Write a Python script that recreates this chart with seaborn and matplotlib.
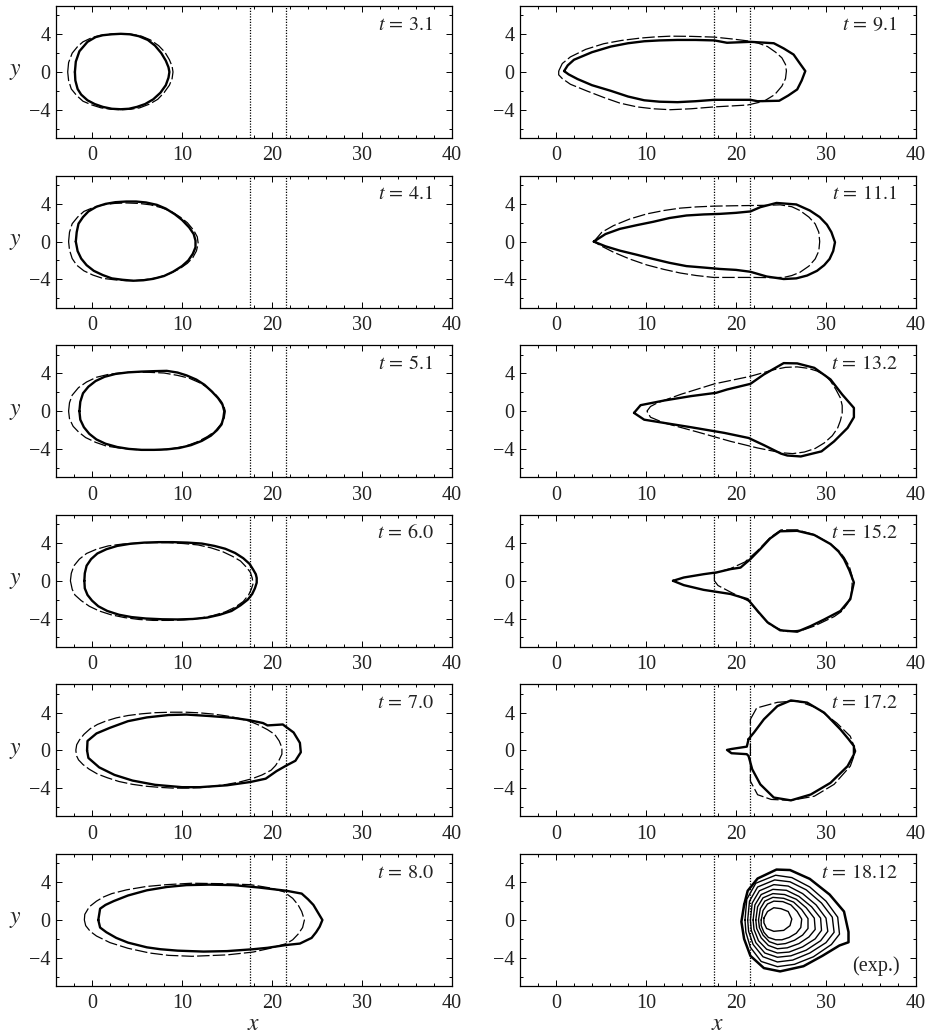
import matplotlib
matplotlib.use("Agg")
import matplotlib.pyplot as plt
import seaborn as sns
import pandas as pd
from matplotlib.ticker import MultipleLocator, FixedLocator

# ---------------- data ----------------
times = ["3.1", "4.1", "5.1", "6.0", "7.0", "8.0",
         "9.1", "11.1", "13.2", "15.2", "17.2"]
exp_time = "18.12"
gap_edges = [17.5, 21.5]
x_ticks = [0, 10, 20, 30, 40]
y_ticks = [-4, 0, 4]

solid_t31 = [(-1.9, 0), (-1.8, 1.1), (-1.4, 2.2), (-0.5, 3.2), (0.4, 3.7), (1.2, 3.9),
             (2.2, 4.0), (3.2, 4.05), (4.2, 4.0), (5.2, 3.8), (6.2, 3.4), (7.0, 2.8),
             (7.7, 2.0), (8.2, 1.2), (8.5, 0.5), (8.6, 0), (8.5, -0.6), (8.2, -1.4),
             (7.6, -2.2), (6.8, -2.9), (5.9, -3.4), (5.0, -3.7), (4.1, -3.9), (3.2, -3.95),
             (2.2, -3.9), (1.2, -3.7), (0.3, -3.4), (-0.5, -3.0), (-1.2, -2.4), (-1.6, -1.8),
             (-1.85, -0.9), (-1.9, 0)]
dash_t31 = [(-2.7, 0), (-2.6, 1.0), (-2.2, 2.0), (-1.6, 2.7), (-1.0, 3.2), (0.0, 3.65),
            (1.0, 3.9), (2.1, 4.02), (3.2, 4.05), (4.4, 4.0), (5.5, 3.8), (6.5, 3.4),
            (7.4, 2.8), (8.1, 2.1), (8.6, 1.3), (8.9, 0.6), (9.0, 0), (8.9, -0.7),
            (8.6, -1.4), (8.0, -2.2), (7.3, -2.9), (6.4, -3.4), (5.3, -3.8), (4.3, -3.95),
            (3.2, -4.0), (2.1, -3.95), (1.0, -3.8), (0.0, -3.5), (-1.0, -3.1), (-1.7, -2.5),
            (-2.3, -1.8), (-2.6, -0.9), (-2.7, 0)]

solid_t41 = [(-1.8, 0), (-1.7, 1.0), (-1.5, 1.9), (-1.0, 2.6), (-0.4, 3.2), (0.5, 3.7),
             (1.5, 4.0), (2.6, 4.18), (3.8, 4.25), (4.9, 4.25), (6.0, 4.15), (7.2, 3.9),
             (8.2, 3.5), (9.2, 2.9), (10.0, 2.3), (10.8, 1.5), (11.3, 0.8), (11.5, 0.1),
             (11.5, -0.6), (11.2, -1.3), (10.7, -2.0), (10.0, -2.6), (9.0, -3.2), (8.0, -3.65),
             (6.8, -3.95), (5.7, -4.1), (4.6, -4.15), (3.4, -4.05), (2.2, -3.9), (1.2, -3.55),
             (0.2, -3.1), (-0.6, -2.5), (-1.2, -1.8), (-1.6, -1.0), (-1.8, 0)]
dash_t41 = [(-2.6, 0), (-2.5, 1.0), (-2.2, 1.9), (-1.6, 2.6), (-0.9, 3.2), (0.1, 3.6),
            (1.2, 3.9), (2.5, 4.05), (3.8, 4.1), (5.2, 4.05), (6.5, 3.9), (7.7, 3.6),
            (8.8, 3.2), (9.8, 2.6), (10.6, 2.0), (11.3, 1.2), (11.7, 0.5), (11.8, -0.2),
            (11.6, -1.0), (11.2, -1.7), (10.6, -2.3), (9.7, -2.9), (8.6, -3.4), (7.4, -3.8),
            (6.2, -4.0), (5.0, -4.12), (3.8, -4.15), (2.5, -4.05), (1.2, -3.9), (0.1, -3.55),
            (-0.9, -3.1), (-1.7, -2.5), (-2.2, -1.8), (-2.5, -0.9), (-2.6, 0)]

solid_t51 = [(-1.4, 0), (-1.3, 1.0), (-1.0, 1.9), (-0.4, 2.6), (0.4, 3.2), (1.4, 3.65),
             (2.6, 3.95), (4.0, 4.12), (5.5, 4.2), (7.0, 4.25), (8.3, 4.28), (9.5, 4.1),
             (10.5, 3.8), (11.6, 3.35), (12.5, 2.8), (13.3, 2.1), (14.0, 1.4), (14.5, 0.7),
             (14.7, 0), (14.6, -0.7), (14.4, -1.4), (13.9, -2.0), (13.2, -2.6), (12.2, -3.15),
             (11.0, -3.6), (9.7, -3.9), (8.3, -4.05), (6.9, -4.1), (5.5, -4.1), (4.1, -4.0),
             (2.8, -3.8), (1.5, -3.45), (0.5, -3.0), (-0.3, -2.4), (-0.9, -1.7), (-1.3, -0.9),
             (-1.4, 0)]
dash_t51 = [(-2.6, 0), (-2.5, 0.9), (-2.2, 1.7), (-1.5, 2.5), (-0.6, 3.1), (0.5, 3.6),
            (1.8, 3.9), (3.3, 4.08), (4.8, 4.15), (6.4, 4.12), (8.0, 4.05), (9.5, 3.8),
            (10.8, 3.5), (12.0, 3.0), (13.0, 2.4), (13.8, 1.7), (14.4, 1.0), (14.7, 0.4),
            (14.8, 0), (14.7, -0.7), (14.3, -1.4), (13.7, -2.1), (12.8, -2.7), (11.7, -3.25),
            (10.4, -3.7), (9.0, -3.95), (7.5, -4.1), (6.0, -4.1), (4.5, -4.05), (3.0, -3.9),
            (1.6, -3.7), (0.4, -3.3), (-0.7, -2.8), (-1.5, -2.2), (-2.1, -1.6), (-2.5, -0.8),
            (-2.6, 0)]

solid_t60 = [(-0.85, 0), (-0.8, 0.8), (-0.6, 1.6), (-0.1, 2.3), (0.6, 2.9), (1.6, 3.35),
             (2.8, 3.7), (4.2, 3.92), (5.8, 4.05), (7.4, 4.1), (9.0, 4.1), (10.6, 4.05),
             (12.2, 3.95), (13.6, 3.7), (14.8, 3.4), (15.9, 2.95), (16.8, 2.4), (17.5, 1.8),
             (17.9, 1.2), (18.2, 0.7), (18.3, 0.3), (18.3, -0.2), (18.1, -0.8), (17.8, -1.4),
             (17.3, -2.0), (16.5, -2.6), (15.5, -3.2), (14.2, -3.6), (12.8, -3.9), (11.2, -4.05),
             (9.5, -4.1), (7.8, -4.08), (6.0, -4.0), (4.4, -3.85), (3.0, -3.6), (1.7, -3.2),
             (0.7, -2.7), (0.0, -2.1), (-0.5, -1.5), (-0.8, -0.8), (-0.85, 0)]
dash_t60 = [(-2.4, 0), (-2.3, 0.8), (-2.0, 1.6), (-1.4, 2.3), (-0.6, 2.9), (0.5, 3.35),
            (1.8, 3.7), (3.4, 3.9), (5.0, 4.0), (6.8, 4.05), (8.5, 4.05), (10.2, 3.95),
            (11.8, 3.8), (13.2, 3.5), (14.5, 3.1), (15.6, 2.6), (16.5, 2.1), (17.1, 1.5),
            (17.6, 0.9), (17.8, 0.3), (17.9, -0.3), (17.7, -0.9), (17.4, -1.5), (16.8, -2.2),
            (15.9, -2.8), (14.8, -3.3), (13.4, -3.7), (11.8, -4.0), (10.2, -4.15), (8.5, -4.2),
            (6.8, -4.2), (5.2, -4.1), (3.6, -3.9), (2.1, -3.6), (0.8, -3.2), (-0.3, -2.7),
            (-1.2, -2.1), (-1.9, -1.5), (-2.2, -0.9), (-2.4, 0)]

solid_t70 = [(-0.55, 0), (-0.5, 1.0), (0.5, 1.8), (2.0, 2.4), (4.0, 3.1), (6.1, 3.5),
             (8.5, 3.75), (10.5, 3.8), (13.0, 3.65), (15.7, 3.45), (17.5, 3.2), (19.0, 2.9),
             (19.5, 2.65), (21.2, 2.75), (22.4, 1.9), (23.1, 0.8), (23.2, -0.2), (22.6, -1.1),
             (21.6, -1.6), (20.5, -2.2), (19.3, -3.0), (17.6, -3.35), (15.0, -3.7),
             (12.0, -3.9), (10.0, -3.9), (7.0, -3.65), (4.5, -3.2), (2.5, -2.6), (0.8, -1.8),
             (-0.4, -0.8), (-0.55, 0)]
dash_t70 = [(-1.8, 0), (-1.7, 0.6), (-1.4, 1.1), (-0.9, 1.7), (-0.2, 2.3), (0.6, 2.75),
            (1.5, 3.1), (2.7, 3.45), (4.0, 3.7), (5.5, 3.88), (7.0, 4.0), (8.8, 4.05),
            (10.5, 4.05), (12.0, 3.98), (13.5, 3.85), (15.0, 3.65), (16.3, 3.4), (17.5, 3.1),
            (18.5, 2.7), (19.5, 2.2), (20.3, 1.7), (20.8, 1.0), (21.1, 0.3), (21.1, -0.4),
            (20.8, -1.0), (20.4, -1.6), (19.9, -2.1), (18.9, -2.6), (17.8, -3.0),
            (16.4, -3.35), (15.0, -3.6), (13.5, -3.8), (12.0, -3.95), (10.5, -4.0), (9.0, -4.0),
            (7.5, -3.92), (6.0, -3.8), (4.5, -3.6), (3.0, -3.3), (1.7, -2.9), (0.6, -2.5),
            (-0.3, -2.0), (-1.0, -1.5), (-1.5, -1.0), (-1.7, -0.6), (-1.8, 0)]

solid_t80 = [(0.7, 0), (0.8, 0.6), (0.9, 1.2), (1.5, 1.6), (2.4, 2.0), (4.0, 2.6),
             (6.1, 3.15), (8.3, 3.5), (10.5, 3.7), (13.0, 3.75), (15.7, 3.7), (18.5, 3.45),
             (21.6, 3.1), (23.3, 2.8), (24.0, 2.2), (24.6, 1.6), (25.1, 0.8), (25.6, 0),
             (25.3, -0.7), (24.9, -1.3), (24.4, -1.9), (23.1, -2.5), (21.6, -2.65),
             (19.5, -2.95), (17.9, -3.1), (15.0, -3.3), (12.4, -3.35), (9.5, -3.25),
             (7.6, -3.1), (6.1, -2.9), (4.0, -2.4), (2.7, -1.9), (1.6, -1.3), (0.9, -0.8),
             (0.7, 0)]
dash_t80 = [(-0.85, 0), (-0.8, 0.6), (-0.3, 1.4), (0.5, 2.0), (1.3, 2.45), (2.2, 2.8),
            (3.85, 3.2), (6.0, 3.55), (8.3, 3.75), (11.1, 3.9), (14.5, 3.85), (17.6, 3.75),
            (19.8, 3.4), (21.3, 3.0), (22.3, 2.3), (22.9, 1.6), (23.3, 0.9), (23.5, 0.3),
            (23.6, 0), (23.5, -0.4), (23.4, -0.8), (22.9, -1.5), (22.3, -2.1), (21.6, -2.5),
            (19.8, -3.0), (17.9, -3.4), (15.0, -3.7), (11.1, -3.85), (8.5, -3.75),
            (6.4, -3.5), (4.0, -3.0), (2.0, -2.4), (0.5, -1.7), (-0.2, -1.2), (-0.7, -0.6),
            (-0.85, 0)]

solid_t91 = [(0.9, 0.1), (1.3, 0.7), (2.0, 1.3), (4.0, 2.1), (6.1, 2.7), (8.0, 3.05),
             (9.8, 3.26), (11.5, 3.35), (13.5, 3.4), (15.5, 3.4), (17.6, 3.35), (19.0, 3.1),
             (21.6, 3.2), (24.2, 3.05), (25.3, 2.5), (26.4, 1.85), (27.1, 0.9), (27.7, 0.1),
             (27.3, -0.9), (26.8, -1.85), (25.8, -2.5), (24.8, -3.05), (22.4, -3.1),
             (21.6, -2.95), (17.6, -2.95), (15.5, -3.1), (13.5, -3.2), (11.5, -3.15),
             (9.8, -3.0), (8.0, -2.6), (6.1, -2.0), (4.0, -1.4), (2.4, -0.75), (1.4, -0.25),
             (0.9, 0.1)]
dash_t91 = [(0.3, 0.1), (0.7, 0.9), (1.6, 1.6), (3.3, 2.4), (5.3, 3.0), (7.3, 3.35),
            (9.4, 3.6), (11.0, 3.72), (12.7, 3.8), (15.0, 3.78), (17.6, 3.7), (19.6, 3.5),
            (21.3, 3.3), (22.5, 3.05), (23.5, 2.7), (24.4, 2.1), (25.1, 1.5), (25.5, 0.8),
            (25.6, 0.1), (25.5, -0.7), (25.1, -1.5), (24.3, -2.4), (23.1, -3.1), (21.3, -3.5),
            (19.5, -3.6), (17.6, -3.7), (15.0, -3.9), (12.7, -4.0), (10.8, -3.9), (9.0, -3.7),
            (7.1, -3.3), (5.3, -2.7), (3.4, -2.0), (1.6, -1.3), (0.7, -0.7), (0.3, -0.3),
            (0.3, 0.1)]

solid_t111 = [(4.2, 0), (5.5, 0.8), (7.1, 1.35), (9.0, 1.75), (10.8, 2.1), (12.6, 2.5),
              (14.5, 2.77), (16.4, 2.88), (18.2, 2.94), (20.0, 3.05), (21.6, 3.2), (22.7, 3.65),
              (24.5, 4.1), (26.7, 3.94), (28.2, 3.3), (29.3, 2.6), (30.1, 1.8), (30.6, 1.0),
              (31.0, -0.07), (30.8, -1.0), (30.4, -1.84), (29.8, -2.5), (29.0, -3.1),
              (27.9, -3.6), (26.7, -3.9), (25.3, -3.97), (23.4, -3.7), (21.6, -3.2),
              (20.0, -3.0), (18.2, -2.9), (16.4, -2.75), (14.5, -2.6), (12.6, -2.25),
              (10.8, -1.84), (9.0, -1.4), (7.1, -0.96), (5.5, -0.5), (4.2, 0)]
dash_t111 = [(4.2, 0), (5.1, 1.0), (6.4, 1.7), (8.2, 2.4), (10.1, 2.94), (12.0, 3.3),
             (13.8, 3.55), (15.6, 3.68), (17.5, 3.76), (19.7, 3.8), (21.9, 3.83), (23.5, 3.85),
             (24.9, 3.9), (26.2, 3.7), (27.1, 3.3), (28.1, 2.6), (28.8, 1.88), (29.2, 1.0),
             (29.3, 0), (29.2, -1.0), (28.8, -1.84), (28.1, -2.6), (27.1, -3.26),
             (26.2, -3.6), (25.3, -3.8), (23.5, -3.82), (21.9, -3.8), (19.7, -3.8),
             (17.5, -3.8), (15.6, -3.6), (13.8, -3.33), (12.0, -2.95), (10.1, -2.48),
             (8.2, -1.85), (6.4, -1.13), (5.1, -0.5), (4.2, 0)]

solid_t132 = [(8.67, -0.18), (9.4, 0.64), (12.0, 1.13), (15.0, 1.6), (17.8, 1.95), (19.0, 2.3),
              (21.6, 2.9), (23.1, 3.9), (25.3, 5.1), (26.8, 5.07), (28.7, 4.6), (30.5, 3.37),
              (31.8, 1.77), (33.1, 0.35), (33.1, -0.64), (32.4, -1.77), (30.9, -3.2),
              (29.5, -4.26), (27.2, -4.8), (25.7, -4.7), (25.0, -4.5), (23.1, -3.6),
              (21.4, -2.84), (18.7, -2.3), (15.0, -1.7), (12.0, -1.24), (9.8, -0.9),
              (8.67, -0.18)]
dash_t132 = [(10.1, 0), (10.5, 0.5), (11.3, 0.9), (13.9, 1.8), (17.6, 2.9), (21.6, 3.7),
             (24.2, 4.4), (25.5, 4.65), (26.8, 4.7), (28.0, 4.55), (29.0, 4.26), (29.9, 3.8),
             (30.5, 3.2), (31.1, 2.3), (31.6, 1.4), (31.8, 0.6), (31.8, -0.2), (31.6, -1.0),
             (31.3, -1.77), (30.7, -2.6), (29.8, -3.37), (28.8, -3.95), (27.6, -4.33),
             (26.3, -4.5), (25.0, -4.4), (22.4, -3.9), (19.4, -3.2), (15.7, -2.2),
             (12.0, -1.24), (10.5, -0.64), (10.1, 0)]

solid_t152 = [(13.0, 0), (14.2, 0.35), (16.4, 0.7), (17.9, 0.9), (19.4, 1.24), (20.5, 1.4),
              (21.6, 2.3), (22.7, 3.37), (23.8, 4.5), (24.9, 5.25), (26.8, 5.3), (28.7, 4.86),
              (30.5, 3.9), (31.4, 3.1), (32.0, 2.3), (32.6, 1.1), (33.1, -0.18), (32.7, -1.95),
              (31.6, -3.2), (29.8, -4.1), (28.3, -4.8), (26.8, -5.4), (24.9, -5.25),
              (23.5, -4.4), (22.4, -3.2), (21.3, -1.95), (19.4, -1.4), (16.4, -0.96),
              (14.2, -0.46), (13.0, 0)]
dash_t152 = [(17.6, 0), (17.6, 0.8), (19.4, 1.3), (21.0, 2.0), (22.4, 3.2), (23.8, 4.6),
             (25.0, 5.4), (26.8, 5.4), (28.7, 4.9), (30.5, 3.9), (31.4, 3.2), (32.0, 2.5),
             (32.6, 1.5), (32.9, 0.5), (32.9, -0.5), (32.8, -1.5), (32.4, -2.4), (31.8, -3.2),
             (30.9, -3.8), (29.8, -4.3), (28.7, -4.8), (27.5, -5.2), (25.5, -5.4),
             (23.8, -4.7), (22.6, -3.5), (21.5, -2.2), (19.4, -1.2), (18.0, -0.5), (17.6, 0)]

solid_t172 = [(21.4, 1.2), (22.0, 1.9), (23.1, 3.3), (24.6, 4.7), (26.1, 5.3), (27.9, 5.07),
              (29.8, 4.0), (31.6, 2.23), (32.5, 1.2), (33.1, 0.46), (33.1, -0.43), (32.4, -1.67),
              (30.5, -3.44), (28.3, -4.68), (26.1, -5.3), (24.2, -5.0), (22.7, -3.6),
              (21.8, -2.0), (21.4, -0.6), (21.2, -0.4), (19.5, -0.3), (19.0, 0.05),
              (19.5, 0.15), (21.2, 0.4), (21.4, 1.2)]
dash_t172 = [(21.6, 3.3), (22.3, 4.5), (24.6, 5.1), (26.8, 5.25), (29.0, 4.5), (31.2, 2.9),
             (32.7, 1.5), (33.3, -0.07), (32.7, -1.67), (30.9, -3.6), (28.7, -4.86),
             (26.1, -5.3), (23.9, -5.2), (22.4, -4.7), (21.6, -3.26), (21.6, -1.67),
             (21.6, 0), (21.6, 1.9), (21.6, 3.3)]

exp_c0 = [(20.9, 1.6), (21.3, 3.1), (22.4, 4.4), (24.5, 5.35), (26.0, 5.3), (28.2, 4.36),
          (30.4, 2.7), (32.0, 0.9), (32.5, -1.27), (32.5, -2.36), (31.5, -2.7), (29.6, -3.8),
          (27.5, -4.9), (24.9, -5.45), (23.1, -5.1), (21.6, -3.8), (20.9, -2.0),
          (20.6, -0.18), (20.9, 1.6)]
exp_c1 = [(21.0, 0), (21.2, 2.2), (22.2, 3.9), (24.4, 4.75), (26.2, 4.5), (28.2, 3.5),
          (30.0, 2.0), (31.3, 0.3), (31.5, -1.5), (30.6, -2.6), (28.6, -3.9), (26.5, -4.7),
          (24.6, -4.95), (22.8, -4.4), (21.6, -2.9), (21.1, -1.3), (21.0, 0)]
exp_c2 = [(21.3, 0), (21.5, 2.0), (22.4, 3.5), (24.3, 4.25), (26.0, 4.05), (27.8, 3.2),
          (29.5, 1.8), (30.7, 0.3), (30.9, -1.3), (30.0, -2.4), (28.2, -3.5), (26.3, -4.25),
          (24.6, -4.45), (23.0, -3.9), (21.9, -2.6), (21.4, -1.2), (21.3, 0)]
exp_c3 = [(21.6, 0), (21.8, 1.8), (22.6, 3.1), (24.2, 3.75), (25.8, 3.6), (27.4, 2.8),
          (28.9, 1.6), (30.0, 0.2), (30.2, -1.2), (29.4, -2.2), (27.8, -3.2), (26.1, -3.8),
          (24.6, -3.95), (23.2, -3.5), (22.2, -2.4), (21.7, -1.1), (21.6, 0)]
exp_c4 = [(21.9, 0), (22.1, 1.6), (22.8, 2.7), (24.1, 3.25), (25.6, 3.15), (27.0, 2.5),
          (28.4, 1.4), (29.4, 0.2), (29.5, -1.1), (28.8, -2.0), (27.4, -2.85), (25.9, -3.4),
          (24.6, -3.5), (23.4, -3.1), (22.5, -2.2), (22.0, -1.0), (21.9, 0)]
exp_c5 = [(22.2, 0), (22.4, 1.4), (23.0, 2.35), (24.1, 2.8), (25.4, 2.7), (26.7, 2.2),
          (27.8, 1.3), (28.7, 0.2), (28.8, -1.0), (28.1, -1.8), (27.0, -2.5), (25.7, -2.95),
          (24.6, -3.05), (23.6, -2.7), (22.8, -1.9), (22.3, -0.9), (22.2, 0)]
exp_c6 = [(22.5, 0), (22.7, 1.2), (23.2, 2.0), (24.1, 2.4), (25.3, 2.3), (26.4, 1.9),
          (27.3, 1.1), (28.0, 0.15), (28.0, -0.9), (27.4, -1.6), (26.5, -2.15), (25.5, -2.5),
          (24.6, -2.6), (23.7, -2.3), (23.0, -1.6), (22.6, -0.8), (22.5, 0)]
exp_c7 = [(22.8, 0), (23.0, 1.0), (23.5, 1.7), (24.2, 2.0), (25.2, 1.95), (26.1, 1.6),
          (26.8, 0.9), (27.3, 0.1), (27.2, -0.8), (26.7, -1.4), (25.9, -1.85), (25.1, -2.1),
          (24.4, -2.1), (23.6, -1.85), (23.1, -1.3), (22.8, -0.6), (22.8, 0)]
exp_c8 = [(23.1, 0.2), (23.5, 0.9), (24.2, 1.3), (25.0, 1.2), (25.8, 0.9), (26.2, 0.1),
          (26.0, -0.6), (25.3, -1.1), (24.2, -1.2), (23.4, -0.9), (23.1, -0.3), (23.1, 0.2)]

solid_contours = [solid_t31, solid_t41, solid_t51, solid_t60, solid_t70, solid_t80,
                  solid_t91, solid_t111, solid_t132, solid_t152, solid_t172]
dashed_contours = [dash_t31, dash_t41, dash_t51, dash_t60, dash_t70, dash_t80,
                   dash_t91, dash_t111, dash_t132, dash_t152, dash_t172]
exp_contours = [exp_c0, exp_c1, exp_c2, exp_c3, exp_c4, exp_c5, exp_c6, exp_c7, exp_c8]

# ---------------- style ----------------
sns.set_theme(style="ticks")
plt.rcParams["font.family"] = ["Liberation Serif", "DejaVu Serif"]
plt.rcParams["mathtext.fontset"] = "stix"
plt.rcParams["axes.edgecolor"] = "black"
plt.rcParams["axes.linewidth"] = 0.9

W, H = 934, 1035
fig = plt.figure(figsize=(W / 100, H / 100), dpi=100)

col_left = [56, 520]
ax_w = 396
ax_h = 132
row_top = [6 + i * 169.6 for i in range(6)]


def make_ax(col, row):
    l = col_left[col] / W
    b = 1 - (row_top[row] + ax_h) / H
    return fig.add_axes([l, b, ax_w / W, ax_h / H])


def style_ax(ax):
    ax.set_xlim(-4, 40)
    ax.set_ylim(-7, 7)
    ax.xaxis.set_major_locator(FixedLocator(x_ticks))
    ax.yaxis.set_major_locator(FixedLocator(y_ticks))
    ax.xaxis.set_minor_locator(MultipleLocator(2))
    ax.yaxis.set_minor_locator(MultipleLocator(2))
    ax.tick_params(which="both", direction="in", top=True, right=True,
                   color="black", width=0.7)
    ax.tick_params(which="major", length=4)
    ax.tick_params(which="minor", length=2)
    ax.tick_params(axis="x", which="major", labelsize=14.5, pad=6, labelcolor="#222222")
    ax.tick_params(axis="y", which="major", labelsize=14.5, pad=4, labelcolor="#222222")
    ax.set_xlabel("")
    ax.set_ylabel("")
    for xv in gap_edges:
        ax.axvline(xv, color="black", lw=0.9, ls=(0, (1, 1.2)))


def draw(ax, pts, **kw):
    df = pd.DataFrame(pts, columns=["x", "y"])
    sns.lineplot(data=df, x="x", y="y", sort=False, estimator=None,
                 color="black", ax=ax, **kw)


for i, t in enumerate(times):
    col, row = (0, i) if i < 6 else (1, i - 6)
    ax = make_ax(col, row)
    draw(ax, dashed_contours[i], lw=0.9, linestyle=(0, (10, 2.5)))
    draw(ax, solid_contours[i], lw=1.7)
    style_ax(ax)
    ax.text(0.953, 0.855, rf"$t\,=\,{t}$", transform=ax.transAxes,
            ha="right", va="center", fontsize=14.5, color="#222222")
    if col == 0:
        ax.set_ylabel(r"$y$", rotation=0, fontsize=17, va="center", ha="center")
        ax.yaxis.set_label_coords(-0.103, 0.5)
    if row == 5:
        ax.set_xlabel(r"$x$", fontsize=17, va="center")
        ax.xaxis.set_label_coords(0.5, -0.295)

# experimental panel
ax = make_ax(1, 5)
for k, c in enumerate(exp_contours):
    draw(ax, c, lw=1.8 if k == 0 else 1.0)
style_ax(ax)
ax.text(0.953, 0.855, rf"$t\,=\,{exp_time}$", transform=ax.transAxes,
        ha="right", va="center", fontsize=14.5, color="#222222")
ax.text(0.958, 0.15, "(exp.)", transform=ax.transAxes,
        ha="right", va="center", fontsize=14.5, color="#222222")
ax.set_xlabel(r"$x$", fontsize=17, va="center")
ax.xaxis.set_label_coords(0.5, -0.295)

fig.savefig("out.png", dpi=100)
